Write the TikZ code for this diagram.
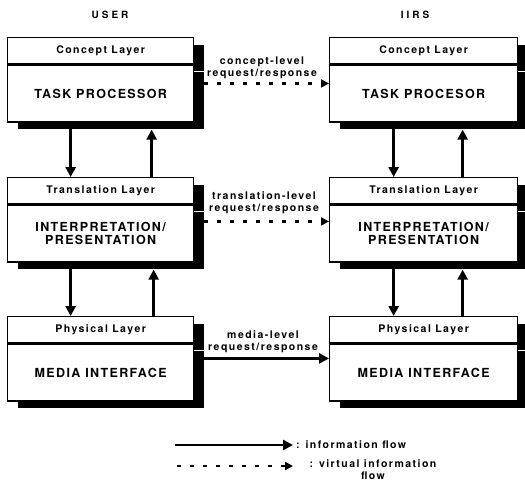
\documentclass[tikz,border=0pt]{standalone}
\usepackage{fontspec}
\usetikzlibrary{arrows.meta,shadows,calc}
\newfontfamily\hvhead[LetterSpace=14]{TeX Gyre Heros}
\newfontfamily\hvbody[LetterSpace=11]{TeX Gyre Heros}
\newfontfamily\hvtitle[LetterSpace=30]{TeX Gyre Heros}
\begin{document}
\begin{tikzpicture}[x=1pt,y=-1pt,
  shadowed/.style={drop shadow={shadow xshift=10pt,shadow yshift=-7pt,opacity=1,fill=black}},
  hdr/.style={shadowed,draw,line width=1.3pt,fill=white,minimum height=26pt,anchor=north west,inner sep=0pt,
     font=\hvhead\bfseries\fontsize{10.5}{12}\selectfont},
  bdy/.style={shadowed,draw,line width=1.3pt,fill=white,minimum height=57pt,anchor=north west,inner sep=0pt,
     align=center,font=\hvbody\bfseries\fontsize{12.5}{13}\selectfont},
  lw/.style={minimum width=186pt},
  rw/.style={minimum width=188pt},
  flow/.style={line width=2.5pt,-{Triangle[width=10pt,length=10pt]}},
  vflow/.style={line width=2.3pt,dash pattern=on 4pt off 9pt,-{Triangle[width=8pt,length=8pt]}},
  lbl/.style={align=center,inner sep=0pt,font=\hvhead\bfseries\fontsize{10.5}{12}\selectfont},
  ttl/.style={inner sep=0pt,font=\hvtitle\bfseries\fontsize{10}{12}\selectfont}]
\useasboundingbox (0,0) rectangle (525,483);

\node[ttl] (tu) at (110,15) {USER};
\node[ttl] (ti) at (415,15) {IIRS};

% left column
\node[hdr,lw] (uch) at (7,37) {Concept Layer};
\node[bdy,lw] (ucb) at (uch.south west) {TASK PROCESSOR};
\node[hdr,lw] (uth) at (7,177) {Translation Layer};
\node[bdy,lw] (utb) at (uth.south west) {INTERPRETATION/\\PRESENTATION};
\node[hdr,lw] (uph) at (7,316) {Physical Layer};
\node[bdy,lw] (upb) at (uph.south west) {MEDIA INTERFACE};

% right column
\node[hdr,rw] (rch) at (329,37) {Concept Layer};
\node[bdy,rw] (rcb) at (rch.south west) {TASK PROCESOR};
\node[hdr,rw] (rth) at (329,177) {Translation Layer};
\node[bdy,rw] (rtb) at (rth.south west) {INTERPRETATION/\\PRESENTATION};
\node[hdr,rw] (rph) at (329,316) {Physical Layer};
\node[bdy,rw] (rpb) at (rph.south west) {MEDIA INTERFACE};

% vertical arrows, left
\draw[flow] ([xshift=-30pt]ucb.south) -- ([xshift=-30pt]uth.north);
\draw[flow] ([xshift=51pt]uth.north) -- ([xshift=51pt,yshift=-7pt]ucb.south);
\draw[flow] ([xshift=-30pt]utb.south) -- ([xshift=-30pt]uph.north);
\draw[flow] ([xshift=53pt]uph.north) -- ([xshift=53pt,yshift=-7pt]utb.south);
% vertical arrows, right
\draw[flow] ([xshift=-30pt]rcb.south) -- ([xshift=-30pt]rth.north);
\draw[flow] ([xshift=39pt]rth.north) -- ([xshift=39pt,yshift=-7pt]rcb.south);
\draw[flow] ([xshift=-30pt]rtb.south) -- ([xshift=-30pt]rph.north);
\draw[flow] ([xshift=39pt]rph.north) -- ([xshift=39pt,yshift=-7pt]rtb.south);

% horizontal arrows
\draw[vflow] ([shift={(10pt,10pt)}]ucb.east) -- ([yshift=10pt]rcb.west);
\draw[vflow] ([shift={(10pt,12pt)}]utb.east) -- ([yshift=12pt]rtb.west);
\draw[flow] ([shift={(10pt,14pt)}]upb.east) -- ([yshift=14pt]rpb.west);

\node[lbl] (l1) at (262,68) {concept-level\\request/response};
\node[lbl] (l2) at (264,203) {translation-level\\request/response};
\node[lbl] (l3) at (263,342) {media-level\\request/response};

% legend
\coordinate (ls1) at (175,445);
\coordinate (le1) at (293,445);
\coordinate (ls2) at (177,466);
\coordinate (le2) at (293,466);
\draw[flow] (ls1) -- (le1);
\draw[vflow] (ls2) -- (le2);
\node[lbl,anchor=west] (g1) at (296,445) {: information flow};
\node[lbl] (g2) at (373,470) {: virtual information\\flow};
\end{tikzpicture}
\end{document}
